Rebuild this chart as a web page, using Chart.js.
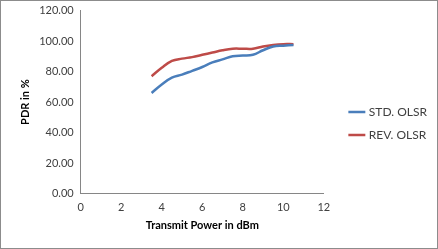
<!DOCTYPE html>
<html>
<head>
<meta charset="utf-8">
<script src="https://cdn.jsdelivr.net/npm/chart.js@4/dist/chart.umd.min.js"></script>
<style>
  html, body { margin: 0; padding: 0; background: #fff; }
  #wrap { width: 436px; height: 247px; border: 1px solid #8c8c8c; }
</style>
</head>
<body>
<div id="wrap"><canvas id="chart" width="436" height="247"></canvas></div>
<script>
// Transmit power (dBm)
const power = [3.5, 4, 4.5, 5, 5.5, 6, 6.5, 7, 7.5, 8, 8.5, 9, 9.5, 10, 10.5];
// PDR in %
const stdOlsr = [66, 71.5, 76, 78, 80.5, 83, 86, 88, 90, 90.5, 91, 94, 96.5, 97, 97.4];
const revOlsr = [77, 82.5, 87, 88.5, 89.5, 91, 92.5, 94, 95, 95, 95, 96.5, 97.5, 98, 98];

const toPoints = (ys) => ys.map((y, i) => ({ x: power[i], y: y }));

const font = { family: 'Lato, "Open Sans", sans-serif', size: 11 };

// extra blank space on the left side of the legend
const legendGap = 16;

new Chart(document.getElementById('chart').getContext('2d'), {
    type: 'line',
    data: {
        datasets: [{
            label: 'STD. OLSR',
            data: toPoints(stdOlsr),
            borderColor: '#4a7ebb',
            borderWidth: 2.5,
            pointRadius: 0,
            tension: 0.4,
            fill: false
        }, {
            label: 'REV. OLSR',
            data: toPoints(revOlsr),
            borderColor: '#be4b48',
            borderWidth: 2.5,
            pointRadius: 0,
            tension: 0.4,
            fill: false
        }]
    },
    options: {
        responsive: false,
        animation: false,
        layout: { padding: { left: 14, right: 0, top: 8, bottom: 10 } },
        plugins: {
            legend: {
                position: 'right',
                labels: {
                    usePointStyle: true,
                    pointStyle: 'line',
                    boxWidth: 26,
                    padding: 11,
                    color: '#404040',
                    font: { family: font.family, size: 12 }
                }
            },
            tooltip: { enabled: false }
        },
        scales: {
            x: {
                type: 'linear',
                min: 0,
                max: 12,
                ticks: { stepSize: 2, color: '#404040', font: font },
                grid: { display: false, drawTicks: true, tickLength: 4, color: '#868686' },
                border: { color: '#868686' },
                title: { display: true, text: 'Transmit Power in dBm', color: '#000', padding: { top: 2, bottom: 6 }, font: { family: font.family, size: 11, weight: 'bold' } }
            },
            y: {
                min: 0,
                max: 120,
                ticks: { stepSize: 20, color: '#404040', font: font, callback: (v) => v.toFixed(2) },
                grid: { display: false, drawTicks: true, tickLength: 4, color: '#868686' },
                border: { color: '#868686' },
                title: { display: true, text: 'PDR in %', color: '#000', font: { family: font.family, size: 11, weight: 'bold' } }
            }
        }
    },
    plugins: [{
        id: 'legendGap',
        beforeLayout: (chart) => {
            const legend = chart.legend;
            if (!legend || legend._gapPatched) return;
            const fit = legend.fit;
            legend.fit = function () {
                fit.call(this);
                this.width += legendGap;
            };
            legend._gapPatched = true;
        },
        afterLayout: (chart) => {
            // shift the items right so the blank space sits between plot and legend
            chart.legend.left += legendGap;
        }
    }]
});
</script>
</body>
</html>
